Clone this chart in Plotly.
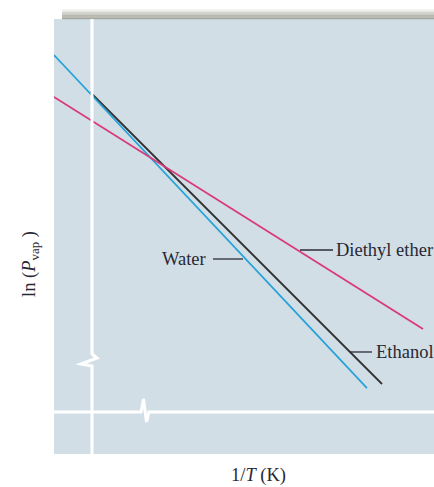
import plotly.graph_objects as go

# Data (arbitrary units: 1/T on x, ln(Pvap) on y)
series_names = ["Water", "Ethanol", "Diethyl ether"]
water_x = [0.0, 8.237]
water_y = [9.172, 1.517]
ethanol_x = [0.947, 8.632]
ethanol_y = [8.322, 1.609]
ether_x = [0.0, 9.711]
ether_y = [8.207, 2.874]
colors = ["#27a2d8", "#333333", "#d9397a"]

# Label anchors (data units)
label_text = ["Water", "Diethyl ether", "Ethanol"]
label_leader_x0 = [4.184, 6.474, 7.789]
label_leader_x1 = [4.974, 7.342, 8.368]
label_y = [4.483, 4.690, 2.345]

W, H = 434, 487
L, R, T, B = 54, 0, 19, 33
XR = [0, 10]
YR = [0, 10]
pw, ph = W - L - R, H - T - B

def px2x(px):
    return (px - L) / pw * (XR[1] - XR[0]) + XR[0]

def px2y(py):
    return (T + ph - py) / ph * (YR[1] - YR[0]) + YR[0]

fig = go.Figure()
for name, xs, ys, c in zip(series_names,
                           [ethanol_x, water_x, ether_x][::1],
                           [ethanol_y, water_y, ether_y], [colors[1], colors[0], colors[2]]):
    pass

# draw ethanol first so water lies on top where they overlap
for name, xs, ys, c in [("Ethanol", ethanol_x, ethanol_y, colors[1]),
                        ("Water", water_x, water_y, colors[0]),
                        ("Diethyl ether", ether_x, ether_y, colors[2])]:
    fig.add_trace(go.Scatter(x=xs, y=ys, mode="lines", name=name,
                             line=dict(color=c, width=1.8), showlegend=False,
                             hoverinfo="skip"))

shapes = []
# top shadow bar (gradient)
shadow_cols = ["#f2f2ef", "#e6e6e2", "#d6d6d0", "#c6c6bf", "#b8b8b0", "#adada5", "#a6a79e"]
for i, col in enumerate(shadow_cols):
    y0px = 9 + i * 1.45
    shapes.append(dict(type="rect", xref="paper", yref="paper",
                       x0=(62 - L) / pw, x1=1.0,
                       y0=(T + ph - (y0px + 1.45)) / ph, y1=(T + ph - y0px) / ph,
                       fillcolor=col, line=dict(width=0), layer="below"))

# white axes with break marks
vx = 92
vpath = (f"M {px2x(vx)},{px2y(19)} L {px2x(vx)},{px2y(354)} "
         f"L {px2x(97)},{px2y(358)} L {px2x(81)},{px2y(364)} "
         f"L {px2x(vx)},{px2y(366)} L {px2x(vx)},{px2y(454)}")
shapes.append(dict(type="path", xref="x", yref="y", path=vpath,
                   line=dict(color="white", width=3)))
hy = 412
hpath = (f"M {px2x(54)},{px2y(hy)} L {px2x(141)},{px2y(hy)} "
         f"L {px2x(143.5)},{px2y(399)} L {px2x(146.5)},{px2y(422)} "
         f"L {px2x(149)},{px2y(hy)} L {px2x(434)},{px2y(hy)}")
shapes.append(dict(type="path", xref="x", yref="y", path=hpath,
                   line=dict(color="white", width=3)))

# leader lines
for x0, x1, y in zip(label_leader_x0, label_leader_x1, label_y):
    shapes.append(dict(type="line", xref="x", yref="y", x0=x0, x1=x1, y0=y, y1=y,
                       line=dict(color="#2b2b33", width=1.3)))

font = dict(family="Liberation Serif, Times New Roman, serif", size=18.5, color="#282834")
annotations = [
    dict(x=label_leader_x0[0] - 0.12, y=label_y[0], text=label_text[0], xref="x", yref="y",
         showarrow=False, xanchor="right", yanchor="middle", font=font),
    dict(x=label_leader_x1[1] + 0.02, y=label_y[1], text=label_text[1], xref="x", yref="y",
         showarrow=False, xanchor="left", yanchor="middle", font=font),
    dict(x=label_leader_x1[2] + 0.05, y=label_y[2], text=label_text[2], xref="x", yref="y",
         showarrow=False, xanchor="left", yanchor="middle", font=font),
    dict(x=(258 - L) / pw, y=(T + ph - 475) / ph, xref="paper", yref="paper",
         text="1/<i>T</i> (K)", showarrow=False, xanchor="center", yanchor="middle", font=font),
    dict(x=(30 - L) / pw, y=(T + ph - 264) / ph, xref="paper", yref="paper",
         text="ln (<i>P</i><sub>vap</sub> )", showarrow=False, textangle=-90,
         xanchor="center", yanchor="middle", font=font),
]

fig.update_layout(
    width=W, height=H,
    margin=dict(l=L, r=R, t=T, b=B, pad=0),
    paper_bgcolor="white", plot_bgcolor="#d2dee6",
    xaxis=dict(range=XR, showgrid=False, zeroline=False, showticklabels=False,
               ticks="", showline=False, fixedrange=True),
    yaxis=dict(range=YR, showgrid=False, zeroline=False, showticklabels=False,
               ticks="", showline=False, fixedrange=True),
    shapes=shapes, annotations=annotations,
)
fig.write_html("out.html", config={"displayModeBar": False},
               post_script="document.body.style.margin='0';document.body.style.overflow='hidden';")
